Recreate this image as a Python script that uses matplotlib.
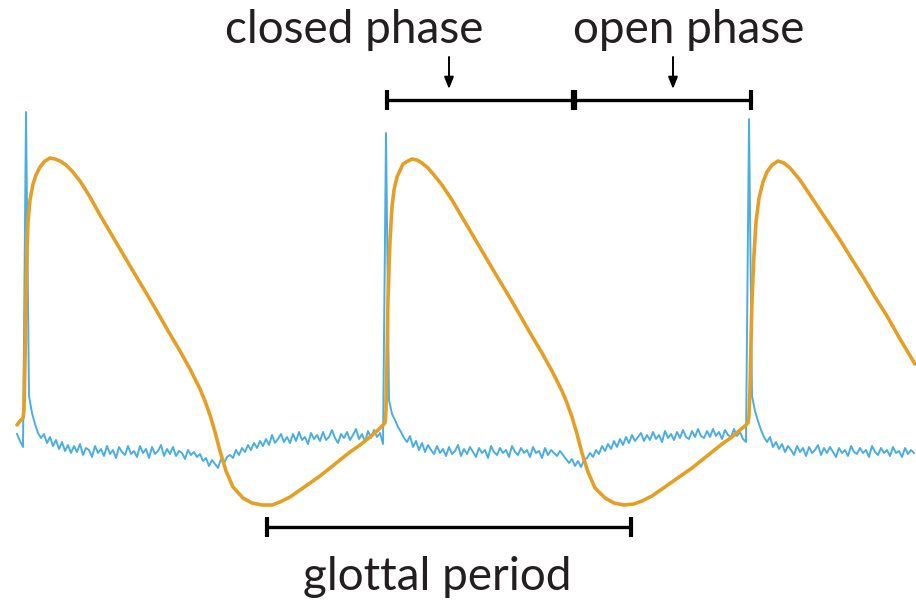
import numpy as np
import matplotlib
matplotlib.use("Agg")
import matplotlib.pyplot as plt

# ---- data (pixel-like units: x = time, y = amplitude, inverted) ----
blue_x0, blue_dx = 17, 3
blue_y = [
    434, 441, 447, 112, 396, 413, 424, 433, 438, 434,
    443, 437, 446, 440, 449, 442, 451, 445, 453, 446,
    452, 444, 455, 448, 450, 457, 446, 453, 449, 456,
    446, 454, 450, 458, 447, 452, 455, 446, 454, 451,
    457, 446, 453, 449, 458, 447, 454, 451, 445, 456,
    449, 454, 447, 456, 451, 453, 459, 450, 455, 452,
    457, 454, 461, 458, 466, 460, 464, 468, 459, 463,
    457, 455, 458, 450, 455, 448, 452, 445, 450, 443,
    448, 441, 446, 439, 445, 435, 443, 439, 434, 442,
    437, 443, 434, 441, 432, 440, 437, 444, 433, 439,
    435, 441, 432, 440, 437, 430, 438, 443, 434, 438,
    432, 440, 435, 429, 439, 434, 442, 431, 438, 430,
    437, 433, 444, 133, 400, 414, 420, 427, 432, 438,
    442, 436, 447, 441, 450, 443, 452, 445, 450, 454,
    446, 453, 449, 456, 447, 454, 451, 445, 456, 449,
    454, 447, 452, 457, 448, 453, 450, 458, 446, 452,
    455, 448, 453, 450, 457, 446, 452, 455, 448, 453,
    450, 457, 447, 453, 451, 458, 448, 455, 450, 453,
    456, 451, 455, 459, 463, 459, 466, 461, 467, 460,
    458, 453, 457, 450, 454, 446, 451, 444, 449, 441,
    447, 439, 445, 437, 443, 435, 441, 437, 433, 441,
    435, 440, 432, 439, 435, 442, 431, 438, 434, 440,
    432, 438, 430, 437, 439, 431, 437, 429, 436, 438,
    431, 437, 429, 436, 432, 439, 430, 435, 437, 429,
    436, 432, 439, 442, 119, 396, 411, 421, 430, 437,
    442, 437, 447, 442, 449, 444, 452, 446, 450, 455,
    446, 452, 448, 456, 447, 453, 450, 445, 455, 448,
    453, 447, 452, 457, 448, 453, 450, 456, 446, 452,
    454, 448, 453, 450, 457, 446, 452, 455, 448, 453,
    450, 456, 447, 453, 451, 457, 448, 454, 450, 453,
]

orange_x = [
    17, 20, 23, 24, 25, 26, 27, 28, 30, 33, 36, 40, 45, 50, 55, 60, 66, 72, 80, 90,
    100, 110, 120, 133, 145, 155, 167, 180, 190, 200, 205, 210, 215, 220, 226, 233,
    243, 252, 262, 272, 280, 290, 300, 310, 320, 330, 340, 350, 360,
    370, 378, 382, 385,
    386, 387, 388, 390, 392, 394, 397, 403, 408, 412, 417, 422, 428, 434, 442, 452,
    462, 472, 482, 495, 507, 517, 529, 542, 552, 562, 567, 572, 577, 582, 588, 595,
    605, 614, 624, 634, 642, 652, 662, 672, 682, 692, 702, 712, 722,
    732, 740, 745, 748,
    749, 750, 751, 752, 754, 756, 759, 763, 767, 772, 778, 784, 790, 800, 810, 820,
    830, 840, 853, 865, 875, 887, 900, 915,
]
orange_y = [
    425, 421, 418, 410, 360, 300, 250, 222, 200, 184, 175, 167, 161, 158, 159, 161, 165, 171, 181, 197,
    215, 232, 249, 271, 291, 308, 329, 351, 369, 389, 401, 415, 432, 451, 471, 487,
    498, 503, 505, 505, 502, 497, 490, 483, 476, 468, 460, 452, 445,
    437, 430, 426, 423,
    410, 360, 300, 240, 207, 190, 177, 164, 161, 159, 160, 163, 168, 175, 185, 200,
    217, 234, 251, 273, 293, 310, 331, 353, 371, 391, 403, 417, 434, 453, 472, 488,
    498, 503, 505, 504, 501, 496, 489, 482, 475, 468, 460, 452, 444,
    437, 430, 426, 423,
    415, 390, 340, 300, 255, 222, 198, 182, 172, 165, 161, 163, 168, 180, 195, 210,
    225, 240, 261, 280, 297, 316, 339, 364,
]

# annotation spans
closed_phase = (387, 574)
open_phase = (574, 751)
glottal_period = (267, 631)
labels = ["closed phase", "open phase", "glottal period"]

# ---- figure ----
W, H = 916, 602
fig = plt.figure(figsize=(W / 100, H / 100), dpi=100)
ax = fig.add_axes([0, 0, 1, 1])
ax.set_xlim(0, W)
ax.set_ylim(H, 0)
ax.axis("off")

blue_x = blue_x0 + blue_dx * np.arange(len(blue_y))
ax.plot(blue_x, blue_y, color="#4AAEE3", lw=1.4, zorder=2)
ax.plot(orange_x, orange_y, color="#E69F25", lw=2.6, zorder=3,
        solid_joinstyle="round", solid_capstyle="round")

txt = "#231F20"
lw_bar = 2.4

def bracket(x0, x1, y, half=10, lw_tick=3.0):
    ax.plot([x0, x1], [y, y], color="black", lw=lw_bar, solid_capstyle="butt", zorder=4)
    for xx in (x0, x1):
        ax.plot([xx, xx], [y - half, y + half], color="black", lw=lw_tick,
                solid_capstyle="butt", zorder=4)

bracket(closed_phase[0], closed_phase[1], 100)
bracket(open_phase[0], open_phase[1], 100)
ax.plot([closed_phase[1], closed_phase[1]], [90, 110], color="black", lw=4.5,
        solid_capstyle="butt", zorder=4)
bracket(glottal_period[0], glottal_period[1], 527)

font = ["Lato", "DejaVu Sans"]
fs = 33
ax.text((closed_phase[0] + closed_phase[1]) / 2 - 126, 43, labels[0], ha="center",
        va="baseline", fontsize=fs, color=txt, family=font)
ax.text((open_phase[0] + open_phase[1]) / 2 + 26, 43, labels[1], ha="center",
        va="baseline", fontsize=fs, color=txt, family=font)
ax.text((glottal_period[0] + glottal_period[1]) / 2 - 11.5, 590, labels[2], ha="center",
        va="baseline", fontsize=fs, color=txt, family=font)

for xa in (449, 673):
    ax.annotate("", xy=(xa, 89), xytext=(xa, 57),
                arrowprops=dict(arrowstyle="-|>,head_width=0.28,head_length=0.7",
                                lw=1.4, color="black", shrinkA=0, shrinkB=0))

fig.savefig("out.png", dpi=100, facecolor="white")
